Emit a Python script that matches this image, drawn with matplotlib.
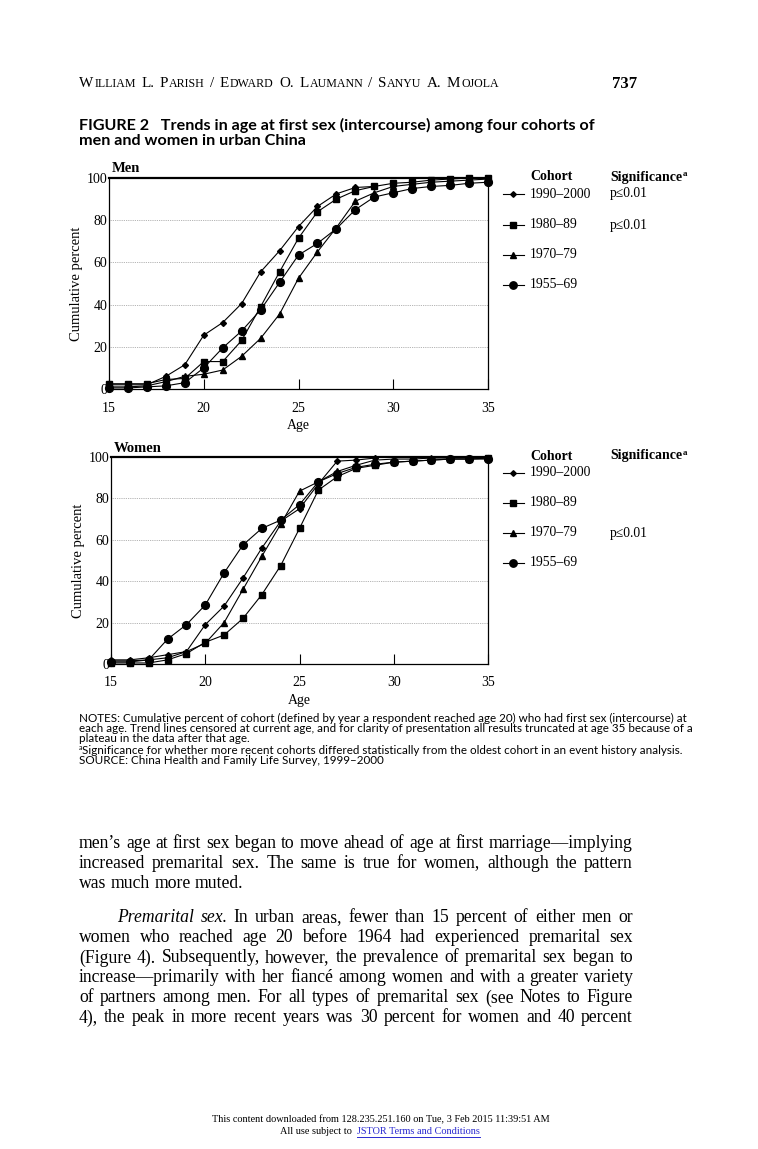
import matplotlib
matplotlib.use("Agg")
import matplotlib.pyplot as plt
from matplotlib.lines import Line2D

plt.rcParams['font.family'] = ['Liberation Serif', 'DejaVu Serif']

# ---- data (cumulative percent by age) ----
ages = list(range(15, 36))
cohorts = ['1990\u20132000', '1980\u201389', '1970\u201379', '1955\u201369']

men_1990 = [2, 2, 2, 6, 11.5, 25.5, 31.5, 40.5, 55.5, 65.5, 77, 86.5, 92.5, 95.5, 96]
men_1980 = [2.5, 2.5, 2.5, 4.5, 5, 13, 13, 23, 39, 55.5, 71.5, 84, 90, 94, 96, 97.5, 98, 99, 99.5, 100, 100]
men_1970 = [1, 1, 1.5, 3.5, 6, 7, 9, 15.5, 24, 35.5, 52.5, 65, 76.5, 89, 93, 96, 97, 98, 98.5, 99, 99.5]
men_1955 = [0.5, 0.5, 1, 1.5, 3, 10, 19.5, 27.5, 37.5, 50.5, 63.5, 69, 76, 85, 91, 93, 95, 96, 96.5, 97.5, 98]

women_1990 = [2, 2, 3, 4.5, 6, 19, 28, 41.5, 56, 69, 75, 87, 98, 98.5, 99.5]
women_1980 = [0.5, 0.5, 0.5, 2, 5, 10.5, 14, 22, 33.5, 47.5, 65.5, 84, 90.5, 94.5, 96, 97.5, 98, 98.5, 99, 99, 99.5]
women_1970 = [1.5, 1.5, 2, 3, 6, 10, 20, 36, 52, 67.5, 83.5, 88, 93, 96, 98.5, 99, 99, 99.5, 99.5, 99.5, 99.5]
women_1955 = [1, 1, 2, 12, 19, 28.5, 44, 57.5, 65.5, 69.5, 77, 88, 92, 95, 96.5, 97.5, 98, 98.5, 99, 99, 99]

men_sig = ['p\u22640.01', 'p\u22640.01', '', '']
women_sig = ['', '', 'p\u22640.01', '']

markers = ['D', 's', '^', 'o']
msizes = [3.0, 4.8, 5.0, 5.6]

W, H = 758, 1149
fig = plt.figure(figsize=(W / 100, H / 100), dpi=100)
fig.patch.set_facecolor('white')
r = fig.canvas.get_renderer()


def fx(x):
    return x / W


def fy(y):
    return 1 - y / H


def put(x, y, s, size, ha='left', va='center', **kw):
    return fig.text(fx(x), fy(y), s, fontsize=size, ha=ha, va=va, **kw)


def width(t):
    return t.get_window_extent(r).width


def fit(x0, x1, y, s, size, **kw):
    # scale the font so the line spans x0..x1 like on the page
    t = put(x0, y, s, size, **kw)
    t.set_fontsize(size * (x1 - x0) / width(t))
    return t


def small_caps(x0, x1, y, s, size=10, ratio=0.78, **kw):
    toks = []
    for ch in s:
        kind = 'sp' if ch == ' ' else ('lo' if ch.islower() else 'up')
        if toks and toks[-1][1] == kind:
            toks[-1][0] += ch
        else:
            toks.append([ch, kind])
    placed = []
    total = 0
    for txt, kind in toks:
        if kind == 'sp':
            w = len(txt) * size * 0.3 * 100 / 72
            placed.append((None, w, kind))
        else:
            sz = size if kind == 'up' else size * ratio
            t = put(x0, y, txt.upper(), sz, va='baseline', **kw)
            w = width(t) + size * 0.06 * 100 / 72
            placed.append((t, w, kind))
        total += w
    k = (x1 - x0) / total
    x = x0
    for t, w, kind in placed:
        if t is not None:
            t.set_fontsize(t.get_fontsize() * k)
            t.set_x(fx(x))
        x += w * k


def justify(y, words, x0, x1, fs, last=False):
    ts = [put(x0, y, w, fs, fontstyle=st) for w, st in words]
    ws = [width(t) for t in ts]
    space = fs * 0.25 * 100 / 72
    gap = space if last else (x1 - x0 - sum(ws)) / (len(ws) - 1)
    x = x0
    for t, w in zip(ts, ws):
        t.set_x(fx(x))
        x += w + gap


def panel(left, right, top, bottom, label, series, sig, rows, head_y):
    ax = fig.add_axes([fx(left), fy(bottom), (right - left) / W, (bottom - top) / H])
    for vals, m, ms in zip(series, markers, msizes):
        ax.plot(ages[:len(vals)], vals, color='black', lw=0.8, marker=m, ms=ms,
                clip_on=False, zorder=3)
    ax.set_xlim(15, 35)
    ax.set_ylim(0, 100)
    ax.set_xticks([15, 20, 25, 30, 35])
    ax.set_yticks([0, 20, 40, 60, 80, 100])
    ax.tick_params(axis='x', direction='in', length=7, width=0.8, pad=9, labelsize=10)
    ax.tick_params(axis='y', length=0, pad=1, labelsize=10)
    for yv in [20, 40, 60, 80]:
        ax.axhline(yv, color='#9a9a9a', lw=0.6, ls=(0, (1, 1.2)), zorder=1)
    for s in ax.spines.values():
        s.set_linewidth(0.9)
    ax.spines['top'].set_linewidth(1.6)
    ax.set_xlabel('Age', fontsize=10, labelpad=3)
    ax.set_ylabel('Cumulative percent', fontsize=10.5, labelpad=3)
    put(left + 3, top - 9, label, 10.5, fontweight='bold')

    # legend drawn by hand next to the panel
    put(530, head_y, 'Cohort', 10, fontweight='bold')
    t = put(610, head_y, 'Significance', 10, fontweight='bold')
    put(610 + width(t) + 0.5, head_y - 3, 'a', 6.5, fontweight='bold')
    for name, m, ms, p, y in zip(cohorts, markers, msizes, sig, rows):
        fig.add_artist(Line2D([fx(503), fx(513), fx(524)], [fy(y)] * 3,
                              transform=fig.transFigure, color='black', lw=0.8,
                              marker=m, ms=ms * 0.95, markevery=[1]))
        put(530, y, name, 9.8)
        if p:
            put(610, y, p, 9.8)
    return ax


# ---- running head and caption ----
small_caps(79, 500, 87, 'William L. Parish / Edward O. Laumann / Sanyu A. Mojola', 10)
put(637, 84, '737', 12, ha='right', fontweight='bold')
t1 = fit(79, 594, 125, 'FIGURE 2   Trends in age at first sex (intercourse) among four cohorts of',
         11, family='Lato', fontweight='bold')
put(79, 141, 'men and women in urban China', t1.get_fontsize(), family='Lato', fontweight='bold')

panel(109, 488, 178, 389, 'Men', [men_1990, men_1980, men_1970, men_1955],
      men_sig, [194, 225, 255, 285], 177)
panel(111, 488, 457, 664, 'Women', [women_1990, women_1980, women_1970, women_1955],
      women_sig, [473, 503, 533, 563], 456)

# ---- notes ----
n1 = fit(79, 680, 718, 'NOTES: Cumulative percent of cohort (defined by year a respondent reached age 20) '
         'who had first sex (intercourse) at', 7, family='Lato')
nfs = n1.get_fontsize()
put(79, 728.5, 'each age. Trend lines censored at current age, and for clarity of presentation all '
    'results truncated at age 35 because of a', nfs, family='Lato')
put(79, 739, 'plateau in the data after that age.', nfs, family='Lato')
put(79, 748, 'a', nfs * 0.6, family='Lato')
put(82.5, 750, 'Significance for whether more recent cohorts differed statistically from the oldest '
    'cohort in an event history analysis.', nfs, family='Lato')
put(79, 760.5, 'SOURCE: China Health and Family Life Survey, 1999\u20132000', nfs, family='Lato')

# ---- body text ----
body = [
    (843, 'men\u2019s age at first sex began to move ahead of age at first marriage\u2014implying', 79, False),
    (863, 'increased premarital sex. The same is true for women, although the pattern', 79, False),
    (883, 'was much more muted.', 79, True),
    (918, '*Premarital *sex.  In urban areas, fewer than 15 percent of either men or', 117, False),
    (938, 'women who reached age 20 before 1964 had experienced premarital sex', 79, False),
    (958, '(Figure 4). Subsequently, however, the prevalence of premarital sex began to', 79, False),
    (978, 'increase\u2014primarily with her fianc\u00e9 among women and with a greater variety', 79, False),
    (998, 'of partners among men. For all types of premarital sex (see Notes to Figure', 79, False),
    (1018, '4), the peak in more recent years was 30 percent for women and 40 percent', 79, False),
]


def words_of(line):
    out = []
    for w in line.split():
        if w.startswith('*'):
            out.append((w[1:], 'italic'))
        else:
            out.append((w, 'normal'))
    return out


# pick one size so the tightest full line still fits the measure
natural = []
for y, line, x0, last in body:
    if last:
        continue
    probe = put(0, 0, line.replace('*', ''), 12)
    natural.append(width(probe) / (633 - x0))
    probe.remove()
bfs = 12 / max(natural) * 0.99
for y, line, x0, last in body:
    justify(y, words_of(line), x0, 633, bfs, last)

# ---- download stamp ----
fit(212, 547, 1120, 'This content downloaded from 128.235.251.160 on Tue, 3 Feb 2015 11:39:51 AM', 7.5)
ffs = fig.texts[-1].get_fontsize()
a = put(0, 1131, 'All use subject to ', ffs)
b = put(0, 1131, 'JSTOR Terms and Conditions', ffs, color='#2a2ad0')
wa, wb = width(a), width(b)
xs = 380 - (wa + wb + ffs * 0.25) / 2
a.set_x(fx(xs))
b.set_x(fx(xs + wa + ffs * 0.35))
fig.add_artist(Line2D([fx(xs + wa + ffs * 0.35), fx(xs + wa + ffs * 0.35 + wb)], [fy(1136.5)] * 2,
                      transform=fig.transFigure, color='#2a2ad0', lw=0.7))

fig.savefig('out.png', dpi=100, facecolor='white')
